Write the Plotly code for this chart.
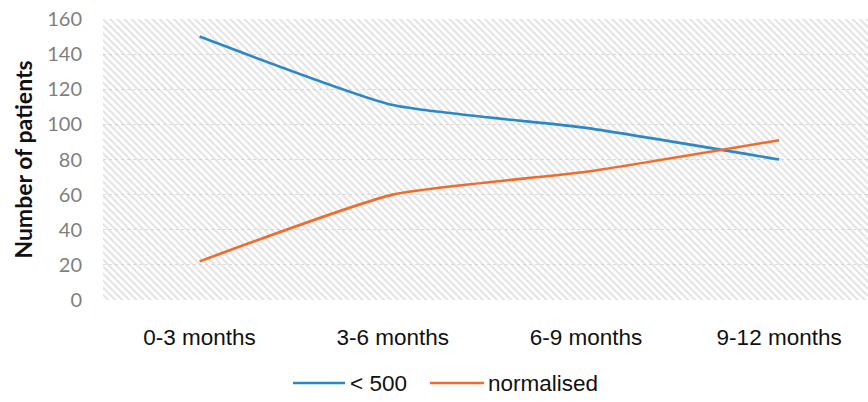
import plotly.graph_objects as go

# Follow-up periods and patient counts per group
periods = ["0-3 months", "3-6 months", "6-9 months", "9-12 months"]
below_500 = [150, 111, 98, 80]
normalised = [22, 60, 73, 91]
y_ticks = [0, 20, 40, 60, 80, 100, 120, 140, 160]
series_names = ["< 500", "normalised"]
series_colors = ["#2b88c8", "#f26b2b"]

SANS = "Liberation Sans, Arial"

fig = go.Figure()

# Hatched plot-area background on its own unit axes
fig.add_trace(go.Scatter(
    x=[0, 1, 1, 0, 0], y=[0, 0, 1, 1, 0],
    mode="none", fill="toself",
    fillcolor="rgba(0,0,0,0)",
    fillpattern=dict(shape="\\", fgcolor="#c4c4c4", bgcolor="rgba(255,255,255,0)",
                     size=5, solidity=0.4),
    hoverinfo="skip", showlegend=False,
    xaxis="x", yaxis="y",
))

x_idx = list(range(len(periods)))

for name, vals, color in zip(series_names, [below_500, normalised], series_colors):
    fig.add_trace(go.Scatter(
        x=x_idx, y=vals, name=name, mode="lines",
        line=dict(color=color, width=2.6, shape="spline", smoothing=0.5),
        xaxis="x2", yaxis="y2", showlegend=False,
    ))

# Legend drawn below the axis: long line samples followed by labels
legend_items = [(293, 345, 348), (430, 484, 486)]
for (x0, x1, xt), name, color in zip(legend_items, series_names, series_colors):
    fig.add_shape(type="line", xref="paper", yref="paper",
                  x0=(x0 - 103) / 765, x1=(x1 - 103) / 765,
                  y0=(300 - 383) / 281, y1=(300 - 383) / 281,
                  line=dict(color=color, width=2.6))
    fig.add_annotation(text=name, xref="paper", yref="paper",
                       x=(xt - 103) / 765, y=(300 - 383) / 281,
                       xanchor="left", yanchor="middle", showarrow=False,
                       font=dict(family=SANS, size=22.5, color="#111111"))

fig.update_layout(
    width=868, height=402,
    margin=dict(l=103, r=0, t=19, b=102),
    paper_bgcolor="white", plot_bgcolor="white",
    showlegend=False,
    xaxis=dict(range=[0, 1], visible=False, fixedrange=True),
    yaxis=dict(range=[0, 1], visible=False, fixedrange=True),
    xaxis2=dict(
        overlaying="x", anchor="y2", range=[-0.5, 3.46],
        tickmode="array", tickvals=x_idx, ticktext=periods,
        tickfont=dict(family=SANS, size=22.5, color="#111111"),
        showgrid=False, zeroline=False, showline=False,
        ticks="", ticklabelstandoff=21,
    ),
    yaxis2=dict(
        overlaying="y", anchor="x2", side="left", range=[0, 160],
        tickmode="array", tickvals=y_ticks,
        tickfont=dict(family="Lato, Open Sans", size=20, color="#7f7f7f"),
        showgrid=True, gridcolor="#dcdcdc", gridwidth=1, griddash="dot",
        zeroline=False, showline=False, ticks="", ticklabelstandoff=20,
        title=dict(text="<b>Number of patients</b>", standoff=8,
                   font=dict(family="Lato", size=23, color="#111111")),
    ),
)

fig.write_html("out.html")
